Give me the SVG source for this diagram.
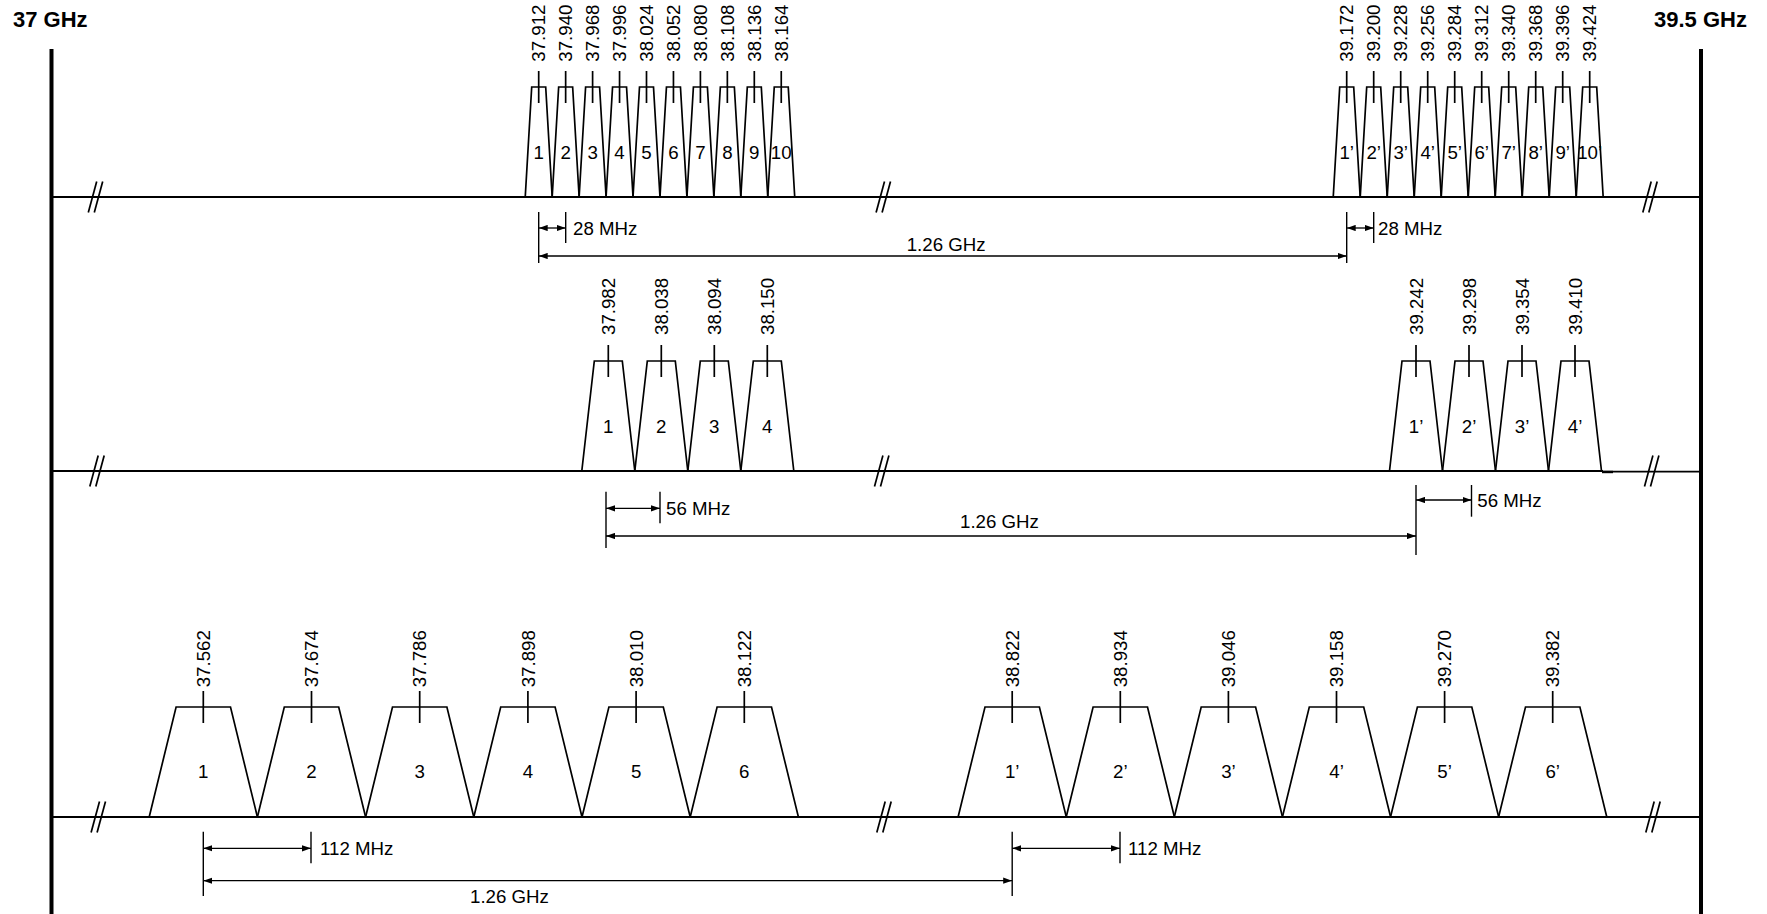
<svg xmlns="http://www.w3.org/2000/svg" xmlns:xlink="http://www.w3.org/1999/xlink" width="1767" height="914" viewBox="0 0 1767 914">
<style>
.ln{stroke:#000;stroke-width:1.7;fill:none}
.base{stroke:#000;stroke-width:1.8;fill:none}
.bar{stroke:#000;stroke-width:4}
.dim{stroke:#000;stroke-width:1.4;fill:none}
.arr{stroke:#000;stroke-width:1.3;fill:none;marker-start:url(#ah);marker-end:url(#ah)}
.t{font-family:"Liberation Sans",Arial,sans-serif;font-size:18.7px;fill:#000}
.c{text-anchor:middle}
.b{font-family:"Liberation Sans",Arial,sans-serif;font-size:22px;font-weight:bold;fill:#000}
</style>
<defs>
<marker id="ah" viewBox="0 0 10 7" refX="10" refY="3.5" markerWidth="9" markerHeight="6.5" markerUnits="userSpaceOnUse" orient="auto-start-reverse"><path d="M0,0 L10,3.5 L0,7 z" fill="#000"/></marker>
<polyline id="n1" class="ln" points="-13.47,0 -7,-110 7,-110 13.47,0"/>
<polyline id="n2" class="ln" points="-26.5,0 -14,-110 14,-110 26.5,0"/>
<polyline id="n3" class="ln" points="-54.1,0 -27.2,-110 27.2,-110 54.1,0"/>
<line id="tk" class="ln" x1="0" y1="-126" x2="0" y2="-94"/>
<g id="brk" class="ln"><line x1="-7.2" y1="15.5" x2="1.2" y2="-15.5"/><line x1="-1.2" y1="15.5" x2="7.2" y2="-15.5"/></g>
</defs>
<rect width="1767" height="914" fill="#fff"/>

<g id="axes">
<text class="b" x="13" y="26.7">37 GHz</text>
<text class="b" x="1654" y="26.7">39.5 GHz</text>
<line class="bar" x1="51.5" y1="49" x2="51.5" y2="914"/>
<line class="bar" x1="1701" y1="49" x2="1701" y2="914"/>
<line class="base" x1="51.5" y1="197" x2="1701" y2="197"/>
<line class="base" x1="51.5" y1="471" x2="1603" y2="471"/>
<line class="base" x1="1603" y1="471.6" x2="1701" y2="471.6"/>
<line stroke="#000" stroke-width="2.4" x1="1602" y1="472" x2="1613" y2="472"/>
<line class="base" x1="51.5" y1="817" x2="1701" y2="817"/>
<use href="#brk" x="95.5" y="197"/>
<use href="#brk" x="883.3" y="197"/>
<use href="#brk" x="1650" y="197"/>
<use href="#brk" x="97" y="471"/>
<use href="#brk" x="881.7" y="471"/>
<use href="#brk" x="1651.7" y="471"/>
<use href="#brk" x="98.3" y="817"/>
<use href="#brk" x="884" y="817"/>
<use href="#brk" x="1653" y="817"/>
</g>

<g id="row1">
<g id="r1-1" transform="translate(538.7,197)"><use href="#n1"/><use href="#tk"/><text class="t c" y="-38.3">1</text><text class="t" transform="translate(6.7,-135.3) rotate(-90)">37.912</text></g>
<g id="r1-2" transform="translate(565.65,197)"><use href="#n1"/><use href="#tk"/><text class="t c" y="-38.3">2</text><text class="t" transform="translate(6.7,-135.3) rotate(-90)">37.940</text></g>
<g id="r1-3" transform="translate(592.6,197)"><use href="#n1"/><use href="#tk"/><text class="t c" y="-38.3">3</text><text class="t" transform="translate(6.7,-135.3) rotate(-90)">37.968</text></g>
<g id="r1-4" transform="translate(619.55,197)"><use href="#n1"/><use href="#tk"/><text class="t c" y="-38.3">4</text><text class="t" transform="translate(6.7,-135.3) rotate(-90)">37.996</text></g>
<g id="r1-5" transform="translate(646.5,197)"><use href="#n1"/><use href="#tk"/><text class="t c" y="-38.3">5</text><text class="t" transform="translate(6.7,-135.3) rotate(-90)">38.024</text></g>
<g id="r1-6" transform="translate(673.45,197)"><use href="#n1"/><use href="#tk"/><text class="t c" y="-38.3">6</text><text class="t" transform="translate(6.7,-135.3) rotate(-90)">38.052</text></g>
<g id="r1-7" transform="translate(700.4,197)"><use href="#n1"/><use href="#tk"/><text class="t c" y="-38.3">7</text><text class="t" transform="translate(6.7,-135.3) rotate(-90)">38.080</text></g>
<g id="r1-8" transform="translate(727.35,197)"><use href="#n1"/><use href="#tk"/><text class="t c" y="-38.3">8</text><text class="t" transform="translate(6.7,-135.3) rotate(-90)">38.108</text></g>
<g id="r1-9" transform="translate(754.3,197)"><use href="#n1"/><use href="#tk"/><text class="t c" y="-38.3">9</text><text class="t" transform="translate(6.7,-135.3) rotate(-90)">38.136</text></g>
<g id="r1-10" transform="translate(781.25,197)"><use href="#n1"/><use href="#tk"/><text class="t c" y="-38.3">10</text><text class="t" transform="translate(6.7,-135.3) rotate(-90)">38.164</text></g>
<g id="r1-1p" transform="translate(1346.7,197)"><use href="#n1"/><use href="#tk"/><text class="t c" y="-38.3">1’</text><text class="t" transform="translate(6.7,-135.3) rotate(-90)">39.172</text></g>
<g id="r1-2p" transform="translate(1373.7,197)"><use href="#n1"/><use href="#tk"/><text class="t c" y="-38.3">2’</text><text class="t" transform="translate(6.7,-135.3) rotate(-90)">39.200</text></g>
<g id="r1-3p" transform="translate(1400.7,197)"><use href="#n1"/><use href="#tk"/><text class="t c" y="-38.3">3’</text><text class="t" transform="translate(6.7,-135.3) rotate(-90)">39.228</text></g>
<g id="r1-4p" transform="translate(1427.7,197)"><use href="#n1"/><use href="#tk"/><text class="t c" y="-38.3">4’</text><text class="t" transform="translate(6.7,-135.3) rotate(-90)">39.256</text></g>
<g id="r1-5p" transform="translate(1454.7,197)"><use href="#n1"/><use href="#tk"/><text class="t c" y="-38.3">5’</text><text class="t" transform="translate(6.7,-135.3) rotate(-90)">39.284</text></g>
<g id="r1-6p" transform="translate(1481.7,197)"><use href="#n1"/><use href="#tk"/><text class="t c" y="-38.3">6’</text><text class="t" transform="translate(6.7,-135.3) rotate(-90)">39.312</text></g>
<g id="r1-7p" transform="translate(1508.7,197)"><use href="#n1"/><use href="#tk"/><text class="t c" y="-38.3">7’</text><text class="t" transform="translate(6.7,-135.3) rotate(-90)">39.340</text></g>
<g id="r1-8p" transform="translate(1535.7,197)"><use href="#n1"/><use href="#tk"/><text class="t c" y="-38.3">8’</text><text class="t" transform="translate(6.7,-135.3) rotate(-90)">39.368</text></g>
<g id="r1-9p" transform="translate(1562.7,197)"><use href="#n1"/><use href="#tk"/><text class="t c" y="-38.3">9’</text><text class="t" transform="translate(6.7,-135.3) rotate(-90)">39.396</text></g>
<g id="r1-10p" transform="translate(1589.7,197)"><use href="#n1"/><use href="#tk"/><text class="t c" y="-38.3">10’</text><text class="t" transform="translate(6.7,-135.3) rotate(-90)">39.424</text></g>
</g>

<g id="row2">
<g id="r2-1" transform="translate(608.3,471)"><use href="#n2"/><use href="#tk"/><text class="t c" y="-37.6">1</text><text class="t" transform="translate(6.7,-136) rotate(-90)">37.982</text></g>
<g id="r2-2" transform="translate(661.3,471)"><use href="#n2"/><use href="#tk"/><text class="t c" y="-37.6">2</text><text class="t" transform="translate(6.7,-136) rotate(-90)">38.038</text></g>
<g id="r2-3" transform="translate(714.3,471)"><use href="#n2"/><use href="#tk"/><text class="t c" y="-37.6">3</text><text class="t" transform="translate(6.7,-136) rotate(-90)">38.094</text></g>
<g id="r2-4" transform="translate(767.3,471)"><use href="#n2"/><use href="#tk"/><text class="t c" y="-37.6">4</text><text class="t" transform="translate(6.7,-136) rotate(-90)">38.150</text></g>
<g id="r2-1p" transform="translate(1416,471)"><use href="#n2"/><use href="#tk"/><text class="t c" y="-37.6">1’</text><text class="t" transform="translate(6.7,-136) rotate(-90)">39.242</text></g>
<g id="r2-2p" transform="translate(1469,471)"><use href="#n2"/><use href="#tk"/><text class="t c" y="-37.6">2’</text><text class="t" transform="translate(6.7,-136) rotate(-90)">39.298</text></g>
<g id="r2-3p" transform="translate(1522,471)"><use href="#n2"/><use href="#tk"/><text class="t c" y="-37.6">3’</text><text class="t" transform="translate(6.7,-136) rotate(-90)">39.354</text></g>
<g id="r2-4p" transform="translate(1575,471)"><use href="#n2"/><use href="#tk"/><text class="t c" y="-37.6">4’</text><text class="t" transform="translate(6.7,-136) rotate(-90)">39.410</text></g>
</g>

<g id="row3">
<g id="r3-1" transform="translate(203.3,817)"><use href="#n3"/><use href="#tk"/><text class="t c" y="-38.6">1</text><text class="t" transform="translate(6.7,-129.7) rotate(-90)">37.562</text></g>
<g id="r3-2" transform="translate(311.5,817)"><use href="#n3"/><use href="#tk"/><text class="t c" y="-38.6">2</text><text class="t" transform="translate(6.7,-129.7) rotate(-90)">37.674</text></g>
<g id="r3-3" transform="translate(419.7,817)"><use href="#n3"/><use href="#tk"/><text class="t c" y="-38.6">3</text><text class="t" transform="translate(6.7,-129.7) rotate(-90)">37.786</text></g>
<g id="r3-4" transform="translate(527.9,817)"><use href="#n3"/><use href="#tk"/><text class="t c" y="-38.6">4</text><text class="t" transform="translate(6.7,-129.7) rotate(-90)">37.898</text></g>
<g id="r3-5" transform="translate(636.1,817)"><use href="#n3"/><use href="#tk"/><text class="t c" y="-38.6">5</text><text class="t" transform="translate(6.7,-129.7) rotate(-90)">38.010</text></g>
<g id="r3-6" transform="translate(744.3,817)"><use href="#n3"/><use href="#tk"/><text class="t c" y="-38.6">6</text><text class="t" transform="translate(6.7,-129.7) rotate(-90)">38.122</text></g>
<g id="r3-1p" transform="translate(1012.2,817)"><use href="#n3"/><use href="#tk"/><text class="t c" y="-38.6">1’</text><text class="t" transform="translate(6.7,-129.7) rotate(-90)">38.822</text></g>
<g id="r3-2p" transform="translate(1120.3,817)"><use href="#n3"/><use href="#tk"/><text class="t c" y="-38.6">2’</text><text class="t" transform="translate(6.7,-129.7) rotate(-90)">38.934</text></g>
<g id="r3-3p" transform="translate(1228.4,817)"><use href="#n3"/><use href="#tk"/><text class="t c" y="-38.6">3’</text><text class="t" transform="translate(6.7,-129.7) rotate(-90)">39.046</text></g>
<g id="r3-4p" transform="translate(1336.5,817)"><use href="#n3"/><use href="#tk"/><text class="t c" y="-38.6">4’</text><text class="t" transform="translate(6.7,-129.7) rotate(-90)">39.158</text></g>
<g id="r3-5p" transform="translate(1444.6,817)"><use href="#n3"/><use href="#tk"/><text class="t c" y="-38.6">5’</text><text class="t" transform="translate(6.7,-129.7) rotate(-90)">39.270</text></g>
<g id="r3-6p" transform="translate(1552.7,817)"><use href="#n3"/><use href="#tk"/><text class="t c" y="-38.6">6’</text><text class="t" transform="translate(6.7,-129.7) rotate(-90)">39.382</text></g>
</g>

<g id="connectors">
<line class="dim" x1="538.7" y1="212" x2="538.7" y2="263"/>
<line class="dim" x1="565.7" y1="212" x2="565.7" y2="243"/>
<line class="arr" x1="538.7" y1="228" x2="565.7" y2="228"/>
<text class="t" x="573" y="234.7">28 MHz</text>
<line class="dim" x1="1346.7" y1="212" x2="1346.7" y2="263"/>
<line class="dim" x1="1373.7" y1="212" x2="1373.7" y2="243"/>
<line class="arr" x1="1346.7" y1="228" x2="1373.7" y2="228"/>
<text class="t" x="1378" y="234.7">28 MHz</text>
<line class="arr" x1="538.7" y1="256" x2="1346.7" y2="256"/>
<text class="t" x="906.7" y="251">1.26 GHz</text>

<line class="dim" x1="606" y1="491.7" x2="606" y2="548"/>
<line class="dim" x1="660" y1="491.7" x2="660" y2="523.3"/>
<line class="arr" x1="606" y1="508.3" x2="660" y2="508.3"/>
<text class="t" x="666" y="515">56 MHz</text>
<line class="dim" x1="1416" y1="485" x2="1416" y2="555"/>
<line class="dim" x1="1471.5" y1="485" x2="1471.5" y2="516.7"/>
<line class="arr" x1="1416" y1="500" x2="1471.5" y2="500"/>
<text class="t" x="1477.3" y="506.7">56 MHz</text>
<line class="arr" x1="606" y1="536" x2="1416" y2="536"/>
<text class="t" x="960" y="528">1.26 GHz</text>

<line class="dim" x1="203.3" y1="831.7" x2="203.3" y2="896"/>
<line class="dim" x1="311" y1="831.7" x2="311" y2="863.3"/>
<line class="arr" x1="203.3" y1="848.3" x2="311" y2="848.3"/>
<text class="t" x="320" y="855">112 MHz</text>
<line class="dim" x1="1012.2" y1="831.7" x2="1012.2" y2="896"/>
<line class="dim" x1="1120" y1="831.7" x2="1120" y2="863.3"/>
<line class="arr" x1="1012.2" y1="848.3" x2="1120" y2="848.3"/>
<text class="t" x="1128" y="855">112 MHz</text>
<line class="arr" x1="203.3" y1="880.7" x2="1012.2" y2="880.7"/>
<text class="t" x="470" y="903.3">1.26 GHz</text>
</g>
</svg>
